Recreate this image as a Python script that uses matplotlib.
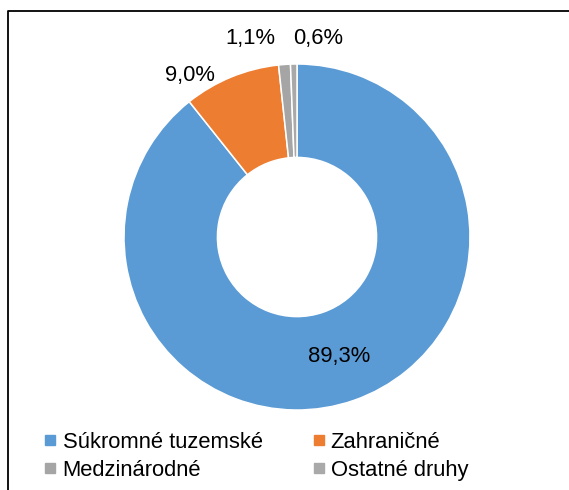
import matplotlib
matplotlib.use("Agg")
import matplotlib.pyplot as plt
from matplotlib.lines import Line2D
import numpy as np

plt.rcParams['font.family'] = ['Liberation Sans', 'DejaVu Sans']

# podiely podla druhu vlastnictva (%)
kategorie = ['Súkromné tuzemské', 'Zahraničné', 'Medzinárodné', 'Ostatné druhy']
hodnoty = [89.3, 9.0, 1.1, 0.6]
farby = ['#5B9BD5', '#ED7D31', '#A5A5A5', '#A9A9A9']

# umiestnenie popiskov mimo prstenca (data suradnice), None = vnutri
popisky_xy = [None, (-0.62, 0.935), (-0.27, 1.15), (0.12, 1.15)]

fig = plt.figure(figsize=(5.69, 4.90), dpi=100)
# osi tak, aby stred bol na (297, 237) px a polomer 173 px
pol = 1.3 * 173
ax = fig.add_axes([(297 - pol) / 569, (490 - 237 - pol) / 490,
                   2 * pol / 569, 2 * pol / 490])

hrubka = 0.54
wedges, _ = ax.pie(hodnoty, colors=farby, startangle=90, counterclock=False,
                   radius=1.0,
                   wedgeprops=dict(width=hrubka, edgecolor='white', linewidth=1.1))
ax.set_xlim(-1.3, 1.3)
ax.set_ylim(-1.3, 1.3)
ax.set_aspect('equal')
ax.axis('off')

for w, v, xy in zip(wedges, hodnoty, popisky_xy):
    txt = f"{v:.1f}".replace('.', ',') + '%'
    if xy is None:
        ang = np.deg2rad((w.theta1 + w.theta2) / 2)
        r = 1 - hrubka / 2
        xy = (r * np.cos(ang), r * np.sin(ang))
    ax.text(xy[0], xy[1], txt, ha='center', va='center', fontsize=15.8,
            color='black', clip_on=False)

# legenda - po riadkoch (matplotlib plni po stlpcoch)
poradie = [0, 2, 1, 3]
handles = [Line2D([], [], marker='s', linestyle='none', markersize=6.5,
                  markerfacecolor=farby[i], markeredgecolor=farby[i])
           for i in poradie]
fig.legend(handles, [kategorie[i] for i in poradie], ncol=2, loc='upper left',
           bbox_to_anchor=(45 / 569, 1 - 432 / 490), frameon=False,
           fontsize=15.8, handlelength=0.5, handletextpad=0.3,
           columnspacing=2.3, labelspacing=0.3, borderpad=0,
           borderaxespad=0)

# ramcek (horna a lava hrana)
x0 = 8 / 569
y0 = 1 - 11 / 490
fig.add_artist(Line2D([x0, x0, 1], [0, y0, y0], transform=fig.transFigure,
                      color='black', linewidth=1.3))

fig.savefig('out.png', dpi=100)
